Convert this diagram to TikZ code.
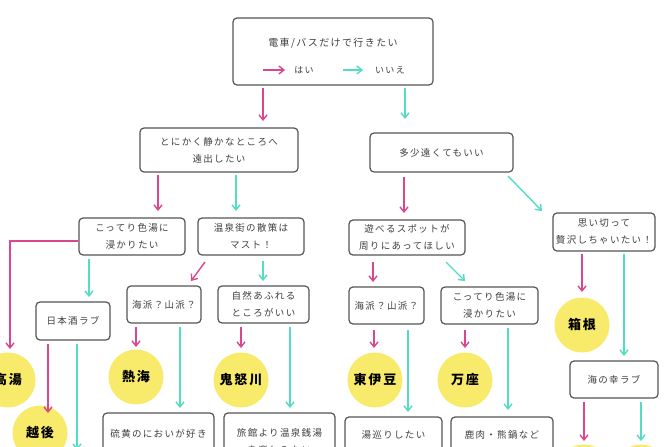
\documentclass[tikz,border=0pt]{standalone}
\usepackage{fontspec}
\setmainfont[LetterSpace=14]{Noto Sans CJK JP}
\usetikzlibrary{arrows.meta}
\definecolor{pk}{HTML}{D9478F}
\definecolor{tl}{HTML}{55DCC4}
\definecolor{yl}{HTML}{F8EA6A}
\definecolor{bd}{HTML}{555555}
\begin{document}
\begin{tikzpicture}[x=1pt,y=-1pt,
  box/.style={draw=bd,line width=1.2pt,rounded corners=4pt,fill=white,align=center,font=\fontsize{9.5}{17}\selectfont,text=black!75,inner sep=0pt},
  spot/.style={circle,fill=yl,minimum size=55pt,inner sep=0pt,font=\bfseries\fontsize{13}{15}\selectfont},
  ya/.style={draw=pk,line width=1.4pt,-{Straight Barb[length=5pt,width=8pt]}},
  no/.style={draw=tl,line width=1.4pt,-{Straight Barb[length=5pt,width=8pt]}}]
\useasboundingbox (0,0) rectangle (670,447);
\clip (0,0) rectangle (670,447);
\fill[white] (0,0) rectangle (670,447);
\newcommand\bx[6]{\node[box,minimum width=#4-#2,minimum height=#5-#3] (#1) at ({(#2+#4)/2},{(#3+#5)/2}) {#6};}
\bx{top}{233}{18}{433}{85}{}
\node[font=\fontsize{10}{12}\selectfont,text=black!75] (tt) at (333,43) {電車/バスだけで行きたい};
\coordinate (l1) at (263,70); \coordinate (l2) at (285,70);
\coordinate (l3) at (343,70); \coordinate (l4) at (363,70);
\draw[ya] (l1) -- (l2); \draw[no] (l3) -- (l4);
\node[font=\fontsize{9}{11}\selectfont,text=black!75] (yes) at (304,70) {はい};
\node[font=\fontsize{9}{11}\selectfont,text=black!75] (nolab) at (390,70) {いいえ};
\bx{b1}{140}{128}{298}{172}{とにかく静かなところへ\\遠出したい}
\bx{b2}{370}{133}{513}{172}{多少遠くてもいい}
\bx{c1}{79}{218}{185}{255}{こってり色湯に\\浸かりたい}
\bx{c2}{198}{218}{304}{255}{温泉街の散策は\\マスト！}
\bx{d1}{36}{302}{110}{340}{日本酒ラブ}
\bx{e1}{127}{286}{201}{323}{海派？山派？}
\bx{e2}{218}{286}{309}{323}{自然あふれる\\ところがいい}
\bx{f1}{103}{413}{214}{470}{硫黄のにおいが好き\\\mbox{}}
\bx{f2}{224}{413}{335}{470}{旅館より温泉銭湯\\を楽しみたい}
\bx{g1}{349}{220}{465}{255}{遊べるスポットが\\周りにあってほしい}
\bx{g2}{553}{213}{655}{251}{思い切って\\贅沢しちゃいたい！}
\bx{h1}{349}{287}{424}{324}{海派？山派？}
\bx{h2}{441}{287}{538}{324}{こってり色湯に\\浸かりたい}
\bx{i1}{345}{417}{442}{470}{湯巡りしたい\\\mbox{}}
\bx{i2}{451}{417}{553}{470}{鹿肉・熊鍋など\\ジビエが好き}
\bx{j}{570}{361}{658}{398}{海の幸ラブ}
\node[spot] (takayu) at (8,380) {高湯};
\node[spot] (echigo) at (40,433) {越後};
\node[spot] (atami) at (136,377) {熱海};
\node[spot] (kinu) at (241,380) {鬼怒川};
\node[spot] (higashi) at (375,380) {東伊豆};
\node[spot] (manza) at (465,380) {万座};
\node[spot] (hakone) at (582,325) {箱根};
\node[spot] (s1) at (584,472) {};
\node[spot] (s2) at (641,472) {};
\draw[ya] (263,88) -- (263,121);
\draw[no] (405,88) -- (405,119);
\draw[ya] (158,175) -- (158,211);
\draw[no] (236,175) -- (236,211);
\draw[ya] (c1.west |- 74,241) -- (10,241) -- (10,349);
\draw[no] (89,259) -- (89,297);
\draw[ya] (205,262) -- (191,281);
\draw[no] (263,261) -- (263,281);
\draw[ya] (136,327) -- (136,347);
\draw[no] (180,327) -- (180,408);
\draw[ya] (241,327) -- (241,348);
\draw[no] (290,327) -- (290,408);
\draw[ya] (48,344) -- (48,413);
\draw[no] (77,344) -- (77,450);
\draw[ya] (404,177) -- (404,213);
\draw[no] (508,176) -- (542,211);
\draw[ya] (373,262) -- (373,282);
\draw[no] (446,262) -- (465,281);
\draw[ya] (374,330) -- (374,348);
\draw[no] (408,330) -- (408,412);
\draw[ya] (465,330) -- (465,348);
\draw[no] (508,328) -- (508,410);
\draw[ya] (582,254) -- (582,292);
\draw[no] (624,254) -- (624,356);
\draw[ya] (584,402) -- (584,441);
\draw[no] (641,402) -- (641,441);
\end{tikzpicture}
\end{document}
